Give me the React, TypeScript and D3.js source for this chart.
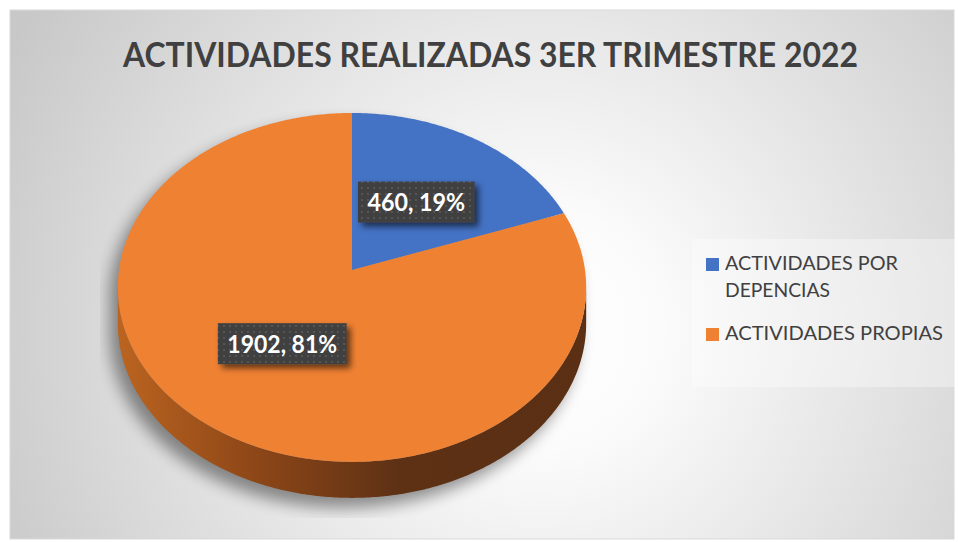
import React from "react";
import * as d3 from "d3";

const title = "ACTIVIDADES REALIZADAS 3ER TRIMESTRE 2022";
const categories = ["ACTIVIDADES POR DEPENCIAS", "ACTIVIDADES PROPIAS"];
const legendLines = [["ACTIVIDADES POR", "DEPENCIAS"], ["ACTIVIDADES PROPIAS"]];
const values = [460, 1902];
const colors = ["#4472C4", "#EF8133"];

const W = 958;
const H = 542;

// projection of the tilted disk
const CX = 352, CY = 270, A = 233, B = 172.7, K = -0.1, DEPTH = 36;
function proj(theta: number, r = 1, dy = 0): [number, number] {
  const u = r * Math.sin(theta);
  const v = -r * Math.cos(theta);
  const s = 1 + K * v;
  return [CX + (A * u) / s, CY + (B * v) / s + dy];
}
function arcPts(a0: number, a1: number, dy = 0) {
  const n = Math.max(2, Math.ceil(Math.abs(a1 - a0) / 0.01));
  return d3.range(n + 1).map((i) => proj(a0 + ((a1 - a0) * i) / n, 1, dy));
}
const line = d3.line();

export default function App() {
  const total = d3.sum(values);
  const arcs = d3.pie<number>().sort(null).value((d) => d)(values);
  const tA = Math.acos(-0.1); // silhouette tangent points
  const tB = 2 * Math.PI - tA;
  const sidePts = [...arcPts(tA, tB, 0), ...arcPts(tB, tA, DEPTH)];
  const sidePath = line(sidePts) + "Z";
  const topPath = line(arcPts(0, 2 * Math.PI)) + "Z";
  const slicePaths = arcs.map((a) => line([[CX, CY], ...arcPts(a.startAngle, a.endAngle)]) + "Z");

  const labelFont = 26;
  const labels = arcs.map((a, i) => {
    const mid = (a.startAngle + a.endAngle) / 2;
    const [x, y] = proj(mid, 0.5);
    const pct = Math.round((values[i] / total) * 100);
    const text = `${values[i]}, ${pct}%`;
    const tw = text.length * 12.2;
    return { x, y, text, tw };
  });

  return (
    <svg width={W} height={H} style={{ position: "absolute", left: 0, top: 0 }} fontFamily="Lato, 'Open Sans', sans-serif">
      <defs>
        <radialGradient id="bg" gradientUnits="userSpaceOnUse" cx={540} cy={330} r={600}>
          <stop offset="0" stopColor="#ffffff" />
          <stop offset="0.2" stopColor="#fbfbfb" />
          <stop offset="1" stopColor="#c8c8c8" />
        </radialGradient>
        <linearGradient id="side" gradientUnits="userSpaceOnUse" x1={118} x2={586} y1={0} y2={0}>
          <stop offset="0" stopColor="#bb6420" />
          <stop offset="0.3" stopColor="#8c4617" />
          <stop offset="0.6" stopColor="#5e3115" />
          <stop offset="1" stopColor="#5a2f13" />
        </linearGradient>
        <filter id="pieShadow" x="-20%" y="-20%" width="140%" height="140%">
          <feGaussianBlur stdDeviation="8" />
        </filter>
        <clipPath id="plotClip">
          <rect x={100} y={100} width={500} height={418} />
        </clipPath>
        <pattern id="dots" width="6" height="6" patternUnits="userSpaceOnUse">
          <rect width="6" height="6" fill="#3f3f3f" />
          <rect x="1" y="1" width="2" height="2" fill="#555555" />
        </pattern>
        <filter id="lblShadow" x="-20%" y="-30%" width="150%" height="170%">
          <feGaussianBlur in="SourceAlpha" stdDeviation="3" />
          <feOffset dx="4" dy="4" result="b" />
          <feComponentTransfer>
            <feFuncA type="linear" slope="0.6" />
          </feComponentTransfer>
          <feMerge>
            <feMergeNode />
            <feMergeNode in="SourceGraphic" />
          </feMerge>
        </filter>
      </defs>

      <rect x={10} y={10} width={944} height={529} fill="url(#bg)" stroke="#d9d9d9" strokeWidth={1} />

      <text
        x={490.5}
        y={67}
        textAnchor="middle"
        fontSize={33.5}
        fontWeight="bold"
        fill="#404040"
        textLength={735}
        lengthAdjust="spacingAndGlyphs"
      >
        {title}
      </text>

      {/* shadow */}
      <g clipPath="url(#plotClip)">
        <g filter="url(#pieShadow)" opacity={0.42} transform="translate(-8,10)">
          <path d={topPath} fill="#000" />
          <path d={sidePath} fill="#000" />
        </g>
      </g>

      {/* pie */}
      <path d={sidePath} fill="url(#side)" />
      {slicePaths.map((d, i) => (
        <path key={categories[i]} d={d} fill={colors[i]} />
      ))}

      {/* data labels */}
      {labels.map((l, i) => {
        const bw = l.tw + 19;
        const bh = 41;
        return (
          <g key={i}>
            <rect x={l.x - bw / 2} y={l.y - bh / 2} width={bw} height={bh} fill="url(#dots)" filter="url(#lblShadow)" />
            <text
              x={l.x}
              y={l.y + 9}
              textAnchor="middle"
              fontSize={labelFont * 0.92}
              fontWeight="bold"
              fill="#ffffff"
              textLength={l.tw}
              lengthAdjust="spacingAndGlyphs"
            >
              {l.text}
            </text>
          </g>
        );
      })}

      {/* legend */}
      <rect x={692} y={239} width={263} height={148} fill="#ffffff" fillOpacity={0.35} />
      {legendLines.map((lines, i) => {
        const y0 = i === 0 ? 270 : 340;
        const widths = i === 0 ? [173, 105] : [218];
        return (
          <g key={i}>
            <rect x={706} y={y0 - 12} width={13} height={13} fill={colors[i]} />
            {lines.map((t, j) => (
              <text
                key={j}
                x={725}
                y={y0 + j * 27}
                fontSize={18.5}
                fill="#404040"
                textLength={widths[j]}
                lengthAdjust="spacingAndGlyphs"
              >
                {t}
              </text>
            ))}
          </g>
        );
      })}
    </svg>
  );
}
